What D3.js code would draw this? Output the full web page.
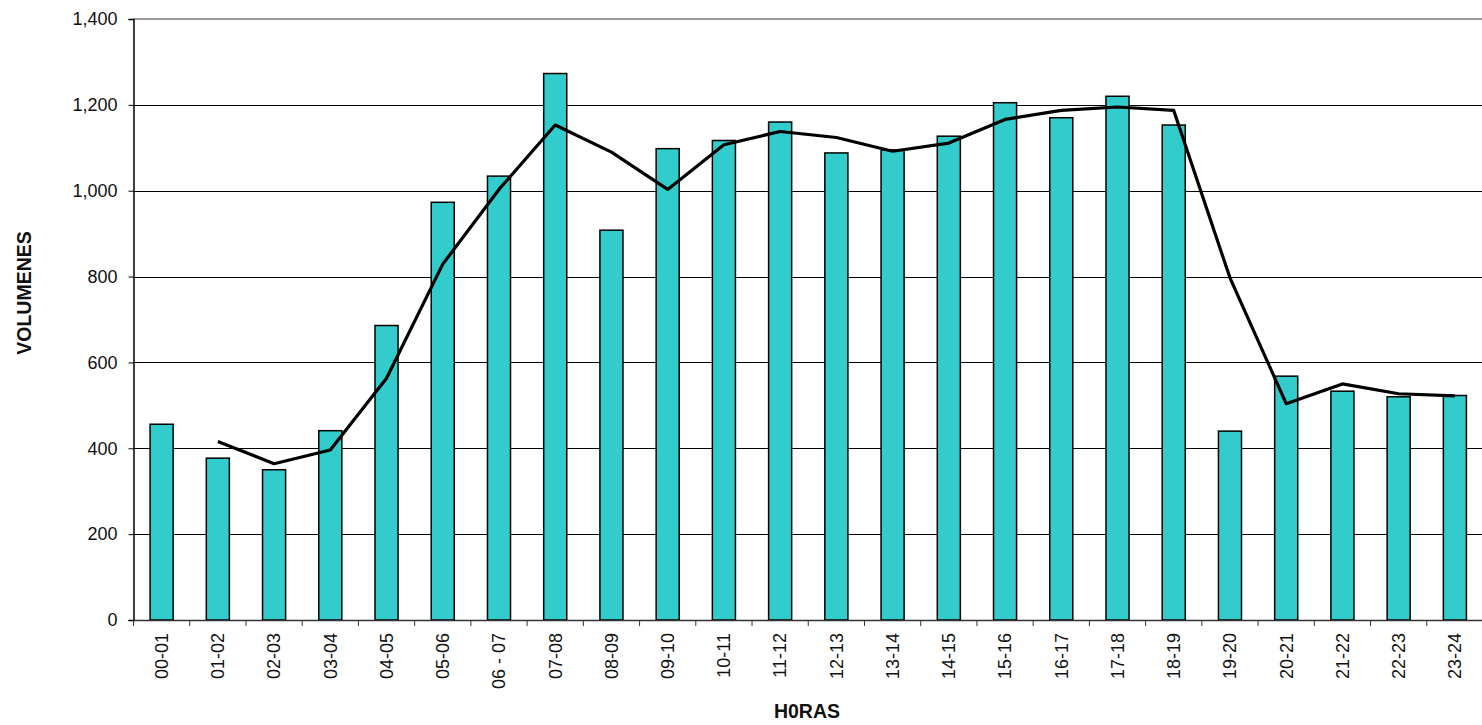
<!DOCTYPE html>
<html>
<head>
<meta charset="utf-8">
<script src="https://cdn.jsdelivr.net/npm/d3@7"></script>
<style>
  html, body { margin: 0; padding: 0; background: #fff; }
  svg { display: block; }
  text { font-family: "Liberation Sans", Arial, sans-serif; fill: #111; }
</style>
</head>
<body>
<svg id="chart" width="1482" height="725"></svg>
<script>
const categories = ["00-01","01-02","02-03","03-04","04-05","05-06","06 - 07","07-08","08-09","09-10","10-11","11-12","12-13","13-14","14-15","15-16","16-17","17-18","18-19","19-20","20-21","21-22","22-23","23-24"];
const volumes = [456, 377, 350, 441, 686, 973, 1034, 1273, 908, 1098, 1117, 1160, 1088, 1095, 1127, 1205, 1170, 1220, 1153, 440, 568, 533, 520, 523];
// Trend line (2-period moving average as drawn), starting at 01-02
const trendCategories = categories.slice(1);
const trendValues = [416, 364, 396, 563, 829, 1003, 1153, 1090, 1003, 1107, 1138, 1124, 1092, 1111, 1166, 1187, 1195, 1187, 797, 504, 550, 527, 522];
const yTicks = [0, 200, 400, 600, 800, 1000, 1200, 1400];
const yTitle = "VOLUMENES";
const xTitle = "H0RAS";

const svg = d3.select("#chart");
const m = { left: 133.5, right: 1483, top: 19, bottom: 620 };

const x = d3.scaleBand().domain(categories).range([m.left, m.right]).paddingInner(0).paddingOuter(0);
const y = d3.scaleLinear().domain([0, 1400]).range([m.bottom, m.top]);

// gridlines
svg.append("g").selectAll("line")
  .data(yTicks.filter(d => d > 0 && d < 1400))
  .join("line")
  .attr("x1", m.left).attr("x2", m.right)
  .attr("y1", d => Math.round(y(d)) + 0.5).attr("y2", d => Math.round(y(d)) + 0.5)
  .attr("stroke", "#000").attr("stroke-width", 1);

// top border
svg.append("line")
  .attr("x1", m.left).attr("x2", m.right)
  .attr("y1", y(1400)).attr("y2", y(1400))
  .attr("stroke", "#999").attr("stroke-width", 2);

// bars
const bw = x.bandwidth() * 0.41;
svg.append("g").selectAll("rect")
  .data(categories.map((c, i) => ({ c, v: volumes[i] })))
  .join("rect")
  .attr("x", d => x(d.c) + (x.bandwidth() - bw) / 2)
  .attr("y", d => y(d.v))
  .attr("width", bw)
  .attr("height", d => y(0) - y(d.v))
  .attr("fill", "#33CCCC")
  .attr("stroke", "#000")
  .attr("stroke-width", 1.5);

// trend line
const line = d3.line()
  .x(d => x(d.c) + x.bandwidth() / 2)
  .y(d => y(d.v));
svg.append("path")
  .datum(trendCategories.map((c, i) => ({ c, v: trendValues[i] })))
  .attr("d", line)
  .attr("fill", "none")
  .attr("stroke", "#000")
  .attr("stroke-width", 3.2)
  .attr("stroke-linejoin", "round");

// y axis
const yAxis = d3.axisLeft(y).tickValues(yTicks).tickFormat(d3.format(",")).tickSize(5).tickPadding(11);
const gy = svg.append("g").attr("transform", `translate(${m.left},0)`).call(yAxis);
gy.select(".domain").attr("stroke", "#000").attr("stroke-width", 1.5);
gy.selectAll(".tick line").attr("stroke", "#000");
gy.selectAll(".tick text").style("font-size", "18px").style("font-family", "'Liberation Sans', Arial, sans-serif").attr("fill", "#111");

// x axis
const xAxis = d3.axisBottom(x).tickSize(0).tickPadding(0);
const gx = svg.append("g").attr("transform", `translate(0,${m.bottom})`).call(xAxis);
gx.select(".domain").attr("stroke", "#333").attr("stroke-width", 1.5);
gx.selectAll(".tick text")
  .style("font-size", "18px").style("font-family", "'Liberation Sans', Arial, sans-serif").attr("fill", "#111")
  .attr("text-anchor", "end")
  .attr("transform", "rotate(-90)")
  .attr("x", -13).attr("y", 0).attr("dy", "0.35em");
// boundary ticks
const bounds = categories.map(c => x(c)).concat([x(categories[categories.length - 1]) + x.bandwidth()]);
svg.append("g").selectAll("line").data(bounds).join("line")
  .attr("x1", d => d).attr("x2", d => d)
  .attr("y1", m.bottom).attr("y2", m.bottom + 6)
  .attr("stroke", "#333").attr("stroke-width", 1);

// titles
svg.append("text")
  .attr("transform", `translate(31,${293}) rotate(-90)`)
  .attr("text-anchor", "middle")
  .style("font-size", "19.5px").style("font-weight", "bold")
  .text(yTitle);
svg.append("text")
  .attr("x", 807).attr("y", 718)
  .attr("text-anchor", "middle")
  .style("font-size", "19.5px").style("font-weight", "bold")
  .text(xTitle);
</script>
</body>
</html>
